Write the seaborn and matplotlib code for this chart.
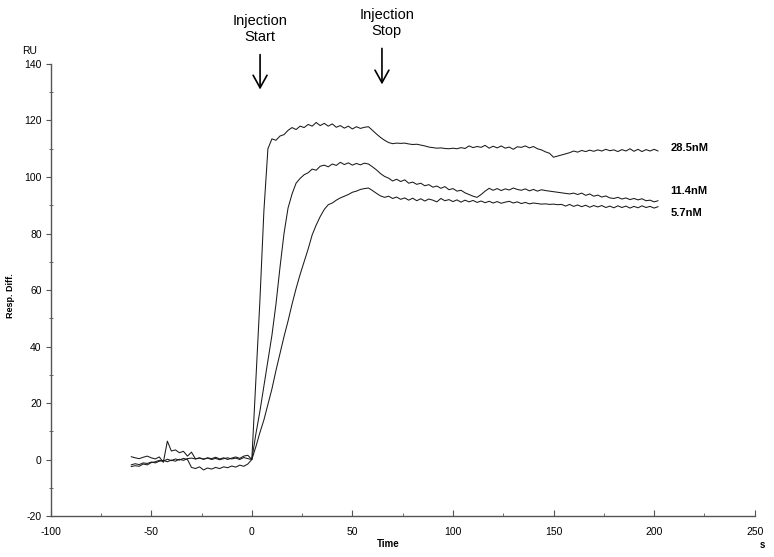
import numpy as np
import pandas as pd
import matplotlib
matplotlib.use("Agg")
import matplotlib.pyplot as plt
import seaborn as sns

# Sensorgram data (RU vs time, s)
time = np.arange(-60, 203, 2)

baseline_28 = [1.0, 0.6, 0.3, 0.8, 1.2, 0.6, 0.2, 0.9, -1.0, 6.5,
               3.0, 3.4, 2.4, 2.9, 1.2, 2.6, 0.2, 0.5, 0.1, 0.6,
               0.3, 0.8, 0.2, 0.6, 0.0, 0.5, 0.9, 0.4, 1.2, 1.5, 0.0]
curve_28 = [28.0, 56.0, 88.0, 110.0, 113.5, 113.0, 114.5, 115.0, 116.5, 117.5,
            116.8, 118.0, 117.5, 118.6, 118.0, 119.3, 118.2, 119.0, 118.0, 118.8,
            117.6, 118.2, 117.3, 118.0, 117.0, 117.8, 117.2, 117.6, 117.8, 116.5,
            115.2, 114.0, 113.0, 112.2, 111.8, 112.0, 111.9, 112.0, 111.7, 111.5,
            111.6, 111.3, 111.0, 110.6, 110.4, 110.2, 110.3, 110.1, 110.0, 110.2,
            110.0, 110.4, 110.1, 111.0, 110.4, 110.8, 110.5, 111.2, 110.2, 110.9,
            110.3, 111.0, 110.2, 110.6, 109.8, 110.7, 110.5, 111.0, 110.3, 110.8,
            110.0, 109.6, 108.9, 108.4, 107.0, 107.4, 107.8, 108.2, 108.6, 109.2,
            108.8, 109.4, 109.0, 109.5, 109.1, 109.6, 109.2, 109.8, 109.3, 109.6,
            109.0, 109.7, 109.2, 110.0, 109.1, 109.8, 109.0, 109.7, 109.2, 109.8,
            109.2]

baseline_11 = [-1.9, -1.5, -1.8, -1.2, -1.4, -0.9, -1.2, -0.6, -0.3, -0.8,
               -0.2, -0.6, 0.1, -0.3, 0.3, 0.5, 0.2, 0.6, 0.1, 0.5,
               0.0, 0.4, -0.1, 0.3, 0.6, 0.2, 0.5, 0.0, 0.7, 0.3, 0.0]
curve_11 = [9.0, 17.0, 26.0, 35.0, 44.0, 55.0, 68.0, 80.0, 89.0, 94.0,
            97.8, 99.5, 100.8, 101.5, 102.8, 102.4, 103.8, 104.2, 103.6, 104.6,
            104.1, 105.2, 104.4, 105.0, 104.2, 104.8, 104.3, 104.9, 104.6, 103.6,
            102.5, 101.2, 100.2, 99.6, 98.6, 99.2, 98.4, 99.0, 97.8, 98.2,
            97.4, 97.8, 96.9, 97.3, 96.4, 96.8, 96.0, 96.6, 95.5, 95.9,
            95.0, 95.3, 94.4, 93.8, 93.2, 92.8, 93.8, 95.0, 96.0, 95.3,
            95.9, 95.2, 95.8, 95.4, 96.1, 95.6, 95.3, 95.8, 95.1, 95.6,
            95.0, 95.5, 95.2, 95.0, 94.8, 94.6, 94.4, 94.2, 94.0, 94.3,
            93.8, 94.3, 93.5, 94.0, 93.2, 93.6, 92.9, 93.3, 92.6, 92.4,
            92.8, 92.2, 92.6, 92.0, 92.4, 91.9, 92.3, 91.6, 91.8, 91.2,
            91.6]

baseline_5 = [-2.5, -2.2, -2.4, -1.6, -1.9, -1.1, -0.8, -0.3, -0.6, 0.1,
              -0.4, 0.2, -0.2, 0.4, 0.0, -2.8, -3.2, -2.6, -3.7, -3.0,
              -3.4, -2.8, -3.2, -2.6, -2.9, -2.3, -2.7, -2.0, -2.4, -1.6, 0.0]
curve_5 = [4.5, 9.5, 14.0, 19.5, 25.0, 31.5, 37.5, 43.5, 49.0, 55.0,
           60.5, 65.5, 70.0, 74.5, 79.5, 83.0, 86.0, 88.5, 90.2, 90.8,
           91.8, 92.6, 93.2, 93.8, 94.6, 95.0, 95.6, 95.9, 96.1, 95.2,
           94.2, 93.3, 92.8, 93.2, 92.4, 92.9, 92.1, 92.6, 91.8, 92.5,
           91.6, 92.3, 91.5, 92.2, 91.8, 91.2, 92.4, 91.6, 92.0, 91.3,
           91.9, 91.1, 91.8, 91.2, 91.7, 91.0, 91.5, 90.9, 91.4, 90.8,
           91.3, 90.7, 91.1, 91.4, 90.8, 91.2, 90.6, 91.0, 90.5, 90.8,
           90.6, 90.4, 90.5, 90.3, 90.4, 90.2, 90.3, 89.7, 90.3, 89.6,
           90.1, 89.5, 90.0, 89.3, 89.9, 89.4, 89.9, 89.2, 89.7, 89.1,
           89.8, 89.2, 89.7, 89.0, 89.6, 89.1, 89.8, 89.2, 89.6, 89.0,
           89.5]

labels = ["28.5nM", "11.4nM", "5.7nM"]
label_y = [110.3, 95.1, 87.3]

series = [baseline_28 + curve_28, baseline_11 + curve_11, baseline_5 + curve_5]
frames = []
for lab, vals in zip(labels, series):
    frames.append(pd.DataFrame({"time": time, "resp": vals, "conc": lab}))
df = pd.concat(frames, ignore_index=True)

sns.set_style("white")
plt.rcParams["font.family"] = ["Liberation Sans", "DejaVu Sans"]
plt.rcParams["axes.unicode_minus"] = False
plt.rcParams["text.color"] = "black"
plt.rcParams["xtick.color"] = "#555555"
plt.rcParams["ytick.color"] = "#555555"
plt.rcParams["xtick.labelcolor"] = "black"
plt.rcParams["ytick.labelcolor"] = "black"
plt.rcParams["axes.labelcolor"] = "black"

fig = plt.figure(figsize=(7.74, 5.57), dpi=100)
ax = fig.add_axes([0.0655, 0.0736, 0.9095, 0.8115])

sns.lineplot(data=df, x="time", y="resp", hue="conc", palette=["#1a1a1a"] * 3,
             estimator=None, sort=False, legend=False, lw=0.75, ax=ax)

ax.set_xlim(-100, 250)
ax.set_ylim(-20, 140)
ax.set_xticks(np.arange(-100, 251, 50))
ax.set_yticks(np.arange(-20, 141, 20))
ax.set_xticks(np.arange(-75, 250, 50), minor=True)
ax.set_yticks(np.arange(-10, 140, 20), minor=True)
ax.tick_params(which="both", bottom=True, left=True)
ax.tick_params(axis="x", which="major", direction="in", length=4, width=0.8,
               labelsize=7.5, pad=8)
ax.tick_params(axis="x", which="minor", direction="in", length=2.5, width=0.6)
ax.tick_params(axis="y", which="major", direction="out", length=3.5, width=0.8,
               labelsize=7.5, pad=3)
ax.tick_params(axis="y", which="minor", direction="inout", length=3, width=0.6)

for side in ["top", "right"]:
    ax.spines[side].set_visible(False)
for side in ["left", "bottom"]:
    ax.spines[side].set_color("#555555")
    ax.spines[side].set_linewidth(1.0)

ax.set_xlabel("")
ax.set_ylabel("Resp. Diff.", fontsize=6.5, fontweight="bold")
ax.yaxis.set_label_coords(-0.051, 0.487)

ax.text(-0.030, 1.029, "RU", transform=ax.transAxes, fontsize=7.5, ha="center", va="center")
ax.text(0.479, -0.062, "Time", transform=ax.transAxes, fontsize=7, fontweight="bold",
        ha="center", va="center")
ax.text(1.011, -0.064, "s", transform=ax.transAxes, fontsize=7, fontweight="bold",
        ha="center", va="center")

for lab, yv in zip(labels, label_y):
    ax.text(208, yv, lab, fontsize=8, fontweight="bold", ha="left", va="center")

# injection markers
arrow = dict(arrowstyle="->,head_length=0.9,head_width=0.5", lw=1.2, color="black")
ax.annotate("", xy=(4.1, 130.0), xytext=(4.1, 144.3), arrowprops=arrow, annotation_clip=False)
ax.annotate("", xy=(64.7, 131.8), xytext=(64.7, 146.5), arrowprops=arrow, annotation_clip=False)
ax.text(4.1, 152.4, "Injection\nStart", fontsize=10.5, ha="center", va="center",
        linespacing=1.15, clip_on=False)
ax.text(67.0, 154.5, "Injection\nStop", fontsize=10.5, ha="center", va="center",
        linespacing=1.15, clip_on=False)

fig.savefig("out.png", dpi=100)
